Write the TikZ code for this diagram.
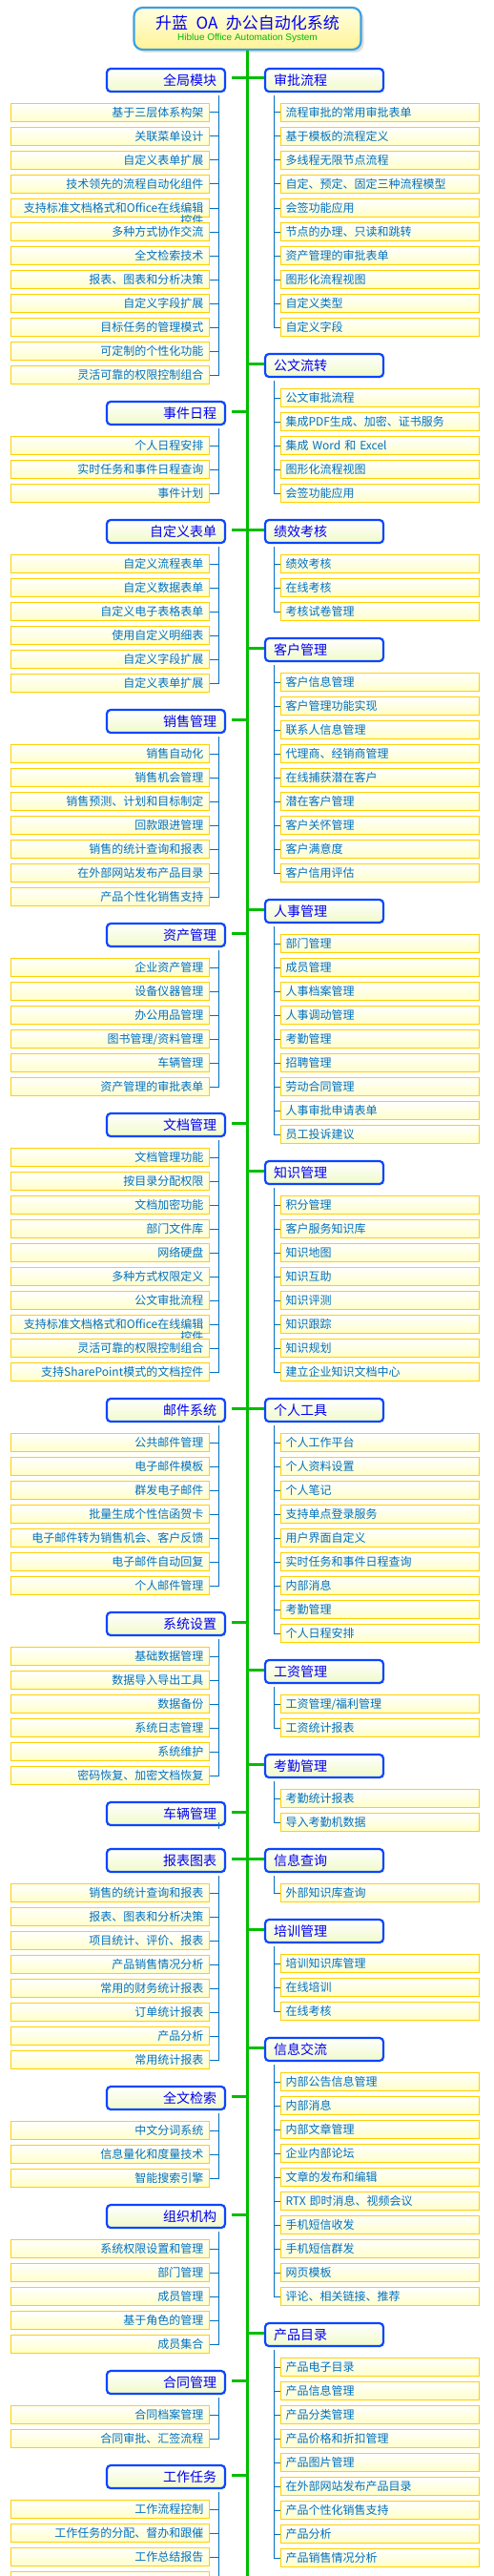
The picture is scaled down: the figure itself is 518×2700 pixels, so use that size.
\documentclass[tikz,border=0pt]{standalone}
\usepackage{fontspec}
\setmainfont{Noto Sans CJK SC}
\newfontfamily\subfont{Liberation Sans}
\usepackage{tikz}
\usetikzlibrary{shadows}
\definecolor{trunkgreen}{RGB}{0,190,0}
\definecolor{subgreen}{RGB}{0,185,0}
\definecolor{catblue}{RGB}{10,70,255}
\definecolor{cattext}{RGB}{0,0,245}
\definecolor{catfill}{RGB}{240,250,200}
\definecolor{itemgold}{RGB}{255,208,0}
\definecolor{itemfill}{RGB}{255,255,200}
\definecolor{itemtext}{RGB}{0,112,192}
\definecolor{titleline}{RGB}{60,160,225}
\definecolor{titletop}{RGB}{255,255,225}
\definecolor{titlebottom}{RGB}{255,243,150}
% second line that hangs below a one-line item box
\newcommand{\spill}[1]{\llap{\smash{\raisebox{-1.1em}{#1}}}}
% group on the left of the trunk: name, label, y, items
\newcommand{\leftgroup}[4]{%
  \node[catleft] (#1) at (174,#3) {#2};
  \coordinate (#1-t) at (259.5,#3-2);
  \draw[mainlink,shorten <=6pt] (#1.east |- #1-t) -- (#1-t);
  \foreach \txt [count=\i] in {#4} {
    \pgfmathsetmacro{\ytop}{\i==1 ? #3+16 : #3+9+25*(\i-1)}
    \node[itemleft] (#1-\i) at (115.3,#3+9+25*\i) {\txt};
    \draw[branch] (229,\ytop) |- (#1-\i.east);
  }}
% group on the right of the trunk
\newcommand{\rightgroup}[4]{%
  \node[catright] (#1) at (340,#3) {#2};
  \coordinate (#1-t) at (259.5,#3-2);
  \draw[mainlink] (#1-t) -- (#1.west |- #1-t);
  \foreach \txt [count=\i] in {#4} {
    \pgfmathsetmacro{\ytop}{\i==1 ? #3+16 : #3+9+25*(\i-1)}
    \node[itemright] (#1-\i) at (398.5,#3+9+25*\i) {\txt};
    \draw[branch] (287,\ytop) |- (#1-\i.west);
  }}

\begin{document}
\begin{tikzpicture}[
  x=1pt,y=-1pt,
  mainlink/.style={draw=trunkgreen,line width=3pt},
  branch/.style={draw=itemtext,line width=1pt},
  titlebox/.style={draw=titleline,line width=2.2pt,rounded corners=9pt,top color=titletop,bottom color=titlebottom,
    minimum width=238pt,minimum height=44pt,drop shadow={shadow xshift=3pt,shadow yshift=-3pt,fill=black!25}},
  catbox/.style={draw=catblue,line width=2.2pt,rounded corners=4pt,top color=white,bottom color=catfill,text=cattext,
    font=\fontsize{14}{16}\selectfont,minimum height=24pt,inner ysep=0pt,inner xsep=9pt,text width=106pt},
  catleft/.style={catbox,align=right},
  catright/.style={catbox,align=left},
  itembox/.style={draw=itemgold,line width=1.2pt,top color=white,bottom color=itemfill,text=itemtext,
    font=\fontsize{12}{14}\selectfont,minimum height=19pt,inner ysep=0pt},
  itemleft/.style={itembox,align=right,inner xsep=6pt,text width=196pt},
  itemright/.style={itembox,align=left,inner xsep=5pt,text width=198pt}
]
\useasboundingbox (0,0) rectangle (518,2700);

% title and trunk
\node[titlebox] (title) at (259.5,30) {};
\node[text=cattext,font=\fontsize{17}{19}\selectfont] (titlecn) at (259.5,24) {升蓝\hspace{0.5em}OA\hspace{0.5em}办公自动化系统};
\node[text=subgreen,font=\subfont\fontsize{10}{12}\selectfont] (titleen) at (259.5,40) {Hiblue Office Automation System};
\coordinate (trunkend) at (259.5,2700);
\draw[mainlink] (title.south) -- (trunkend);

% left side
\leftgroup{global}{全局模块}{84}{基于三层体系构架, 关联菜单设计, 自定义表单扩展, 技术领先的流程自动化组件,
  支持标准文档格式和Office在线编辑\spill{控件}, 多种方式协作交流, 全文检索技术, 报表、图表和分析决策,
  自定义字段扩展, 目标任务的管理模式, 可定制的个性化功能, 灵活可靠的权限控制组合}
\leftgroup{event}{事件日程}{433}{个人日程安排, 实时任务和事件日程查询, 事件计划}
\leftgroup{form}{自定义表单}{557}{自定义流程表单, 自定义数据表单, 自定义电子表格表单, 使用自定义明细表,
  自定义字段扩展, 自定义表单扩展}
\leftgroup{sales}{销售管理}{756}{销售自动化, 销售机会管理, 销售预测、计划和目标制定, 回款跟进管理,
  销售的统计查询和报表, 在外部网站发布产品目录, 产品个性化销售支持}
\leftgroup{asset}{资产管理}{980}{企业资产管理, 设备仪器管理, 办公用品管理, 图书管理/资料管理, 车辆管理,
  资产管理的审批表单}
\leftgroup{doc}{文档管理}{1179}{文档管理功能, 按目录分配权限, 文档加密功能, 部门文件库, 网络硬盘,
  多种方式权限定义, 公文审批流程, 支持标准文档格式和Office在线编辑\spill{控件}, 灵活可靠的权限控制组合,
  支持SharePoint模式的文档控件}
\leftgroup{mail}{邮件系统}{1478}{公共邮件管理, 电子邮件模板, 群发电子邮件, 批量生成个性信函贺卡,
  电子邮件转为销售机会、客户反馈, 电子邮件自动回复, 个人邮件管理}
\leftgroup{sysset}{系统设置}{1702}{基础数据管理, 数据导入导出工具, 数据备份, 系统日志管理, 系统维护,
  密码恢复、加密文档恢复}
\node[catleft] (vehicle) at (174,1901) {车辆管理};
\coordinate (vehicle-t) at (259.5,1899);
\draw[mainlink,shorten <=6pt] (vehicle.east |- vehicle-t) -- (vehicle-t);
\draw[branch] (229,1910) -- (229,1917);
\leftgroup{report}{报表图表}{1950}{销售的统计查询和报表, 报表、图表和分析决策, 项目统计、评价、报表,
  产品销售情况分析, 常用的财务统计报表, 订单统计报表, 产品分析, 常用统计报表}
\leftgroup{search}{全文检索}{2199}{中文分词系统, 信息量化和度量技术, 智能搜索引擎}
\leftgroup{org}{组织机构}{2323}{系统权限设置和管理, 部门管理, 成员管理, 基于角色的管理, 成员集合}
\leftgroup{contract}{合同管理}{2497}{合同档案管理, 合同审批、汇签流程}
\leftgroup{task}{工作任务}{2596}{工作流程控制, 工作任务的分配、督办和跟催, 工作总结报告, {}}

% right side
\rightgroup{approve}{审批流程}{84}{流程审批的常用审批表单, 基于模板的流程定义, 多线程无限节点流程,
  自定、预定、固定三种流程模型, 会签功能应用, 节点的办理、只读和跳转, 资产管理的审批表单,
  图形化流程视图, 自定义类型, 自定义字段}
\rightgroup{officialdoc}{公文流转}{383}{公文审批流程, 集成PDF生成、加密、证书服务, 集成 Word 和 Excel,
  图形化流程视图, 会签功能应用}
\rightgroup{perf}{绩效考核}{557}{绩效考核, 在线考核, 考核试卷管理}
\rightgroup{customer}{客户管理}{681}{客户信息管理, 客户管理功能实现, 联系人信息管理, 代理商、经销商管理,
  在线捕获潜在客户, 潜在客户管理, 客户关怀管理, 客户满意度, 客户信用评估}
\rightgroup{hr}{人事管理}{955}{部门管理, 成员管理, 人事档案管理, 人事调动管理, 考勤管理, 招聘管理,
  劳动合同管理, 人事审批申请表单, 员工投诉建议}
\rightgroup{know}{知识管理}{1229}{积分管理, 客户服务知识库, 知识地图, 知识互助, 知识评测, 知识跟踪,
  知识规划, 建立企业知识文档中心}
\rightgroup{personal}{个人工具}{1478}{个人工作平台, 个人资料设置, 个人笔记, 支持单点登录服务,
  用户界面自定义, 实时任务和事件日程查询, 内部消息, 考勤管理, 个人日程安排}
\rightgroup{salary}{工资管理}{1752}{工资管理/福利管理, 工资统计报表}
\rightgroup{attend}{考勤管理}{1851}{考勤统计报表, 导入考勤机数据}
\rightgroup{query}{信息查询}{1950}{外部知识库查询}
\rightgroup{train}{培训管理}{2024}{培训知识库管理, 在线培训, 在线考核}
\rightgroup{comm}{信息交流}{2148}{内部公告信息管理, 内部消息, 内部文章管理, 企业内部论坛, 文章的发布和编辑,
  RTX 即时消息、视频会议, 手机短信收发, 手机短信群发, 网页模板, 评论、相关链接、推荐}
\rightgroup{product}{产品目录}{2447}{产品电子目录, 产品信息管理, 产品分类管理, 产品价格和折扣管理,
  产品图片管理, 在外部网站发布产品目录, 产品个性化销售支持, 产品分析, 产品销售情况分析}
\end{tikzpicture}
\end{document}
